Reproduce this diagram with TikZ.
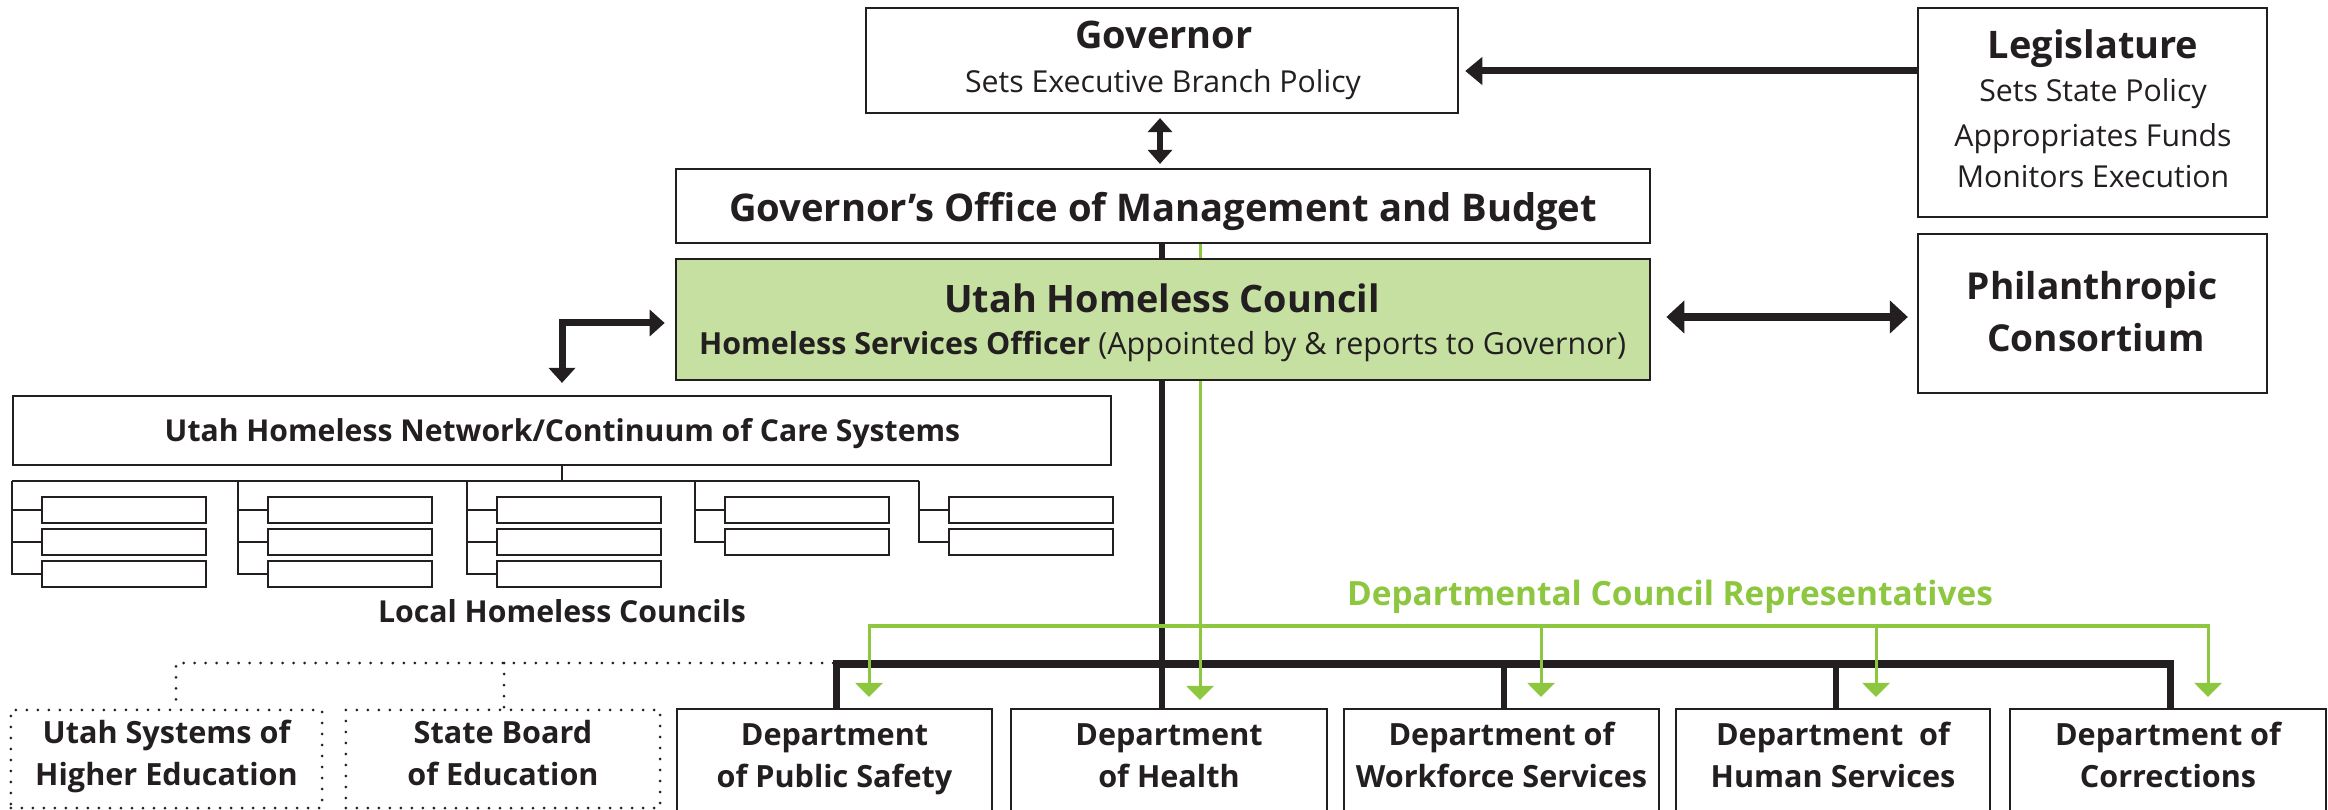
\documentclass[tikz,border=0pt]{standalone}
\usepackage{fontspec}
\setmainfont{Open Sans}
\usetikzlibrary{arrows.meta,backgrounds}
\definecolor{lgreen}{RGB}{197,224,160}
\definecolor{bgreen}{RGB}{141,198,63}
\definecolor{ink}{RGB}{35,31,32}
\newcommand\fsz[1]{\fontsize{#1}{#1}\selectfont}
\begin{document}
\begin{tikzpicture}[x=0.01cm,y=-0.01cm,
  box/.style={draw=ink,line width=0.6pt,fill=white,inner sep=0pt},
  dotbox/.style={draw=ink,line width=0.03cm,dash pattern=on 0pt off 0.11cm,line cap=round,inner sep=0pt},
  lbl/.style={inner sep=0pt,anchor=base,text=ink},
  titleB/.style={lbl,font=\fsz{10.8}\bfseries},
  subR/.style={lbl,font=\fsz{8.6}},
  midB/.style={lbl,font=\fsz{8.7}\bfseries},
  heavy/.style={draw=ink,line width=0.07cm},
  thinl/.style={draw=ink,line width=0.02cm},
  grn/.style={draw=bgreen,line width=0.03cm},
  dotl/.style={draw=ink,line width=0.03cm,dash pattern=on 0pt off 0.11cm,line cap=round}
]
\useasboundingbox (0,0) rectangle (2328,810);
\clip (0,0) rectangle (2328,810);

% ---------- boxes ----------
\node[box,minimum width=5.92cm,minimum height=1.05cm] (gov) at (1162,60.5) {};
\node[box,minimum width=3.49cm,minimum height=2.09cm] (leg) at (2092.5,112.5) {};
\node[box,minimum width=9.74cm,minimum height=0.74cm] (gomb) at (1163,206) {};
\node[box,fill=lgreen,minimum width=9.74cm,minimum height=1.21cm] (uhc) at (1163,319.5) {};
\node[box,minimum width=3.49cm,minimum height=1.59cm] (phil) at (2092.5,313.5) {};
\node[box,minimum width=10.98cm,minimum height=0.69cm] (net) at (562,430.5) {};

\foreach \g/\n [count=\i] in {12/3,238/3,467/3,695/2,919/2} {
  \foreach \j in {1,...,\n} {
    \node[box,line width=0.5pt,minimum width=1.64cm,minimum height=0.26cm] (lc\i\j) at (\g+112,478+32*\j) {};
  }
}

\node[dotbox,minimum width=3.11cm,minimum height=0.98cm] (ush) at (166.5,759) {};
\node[dotbox,minimum width=3.14cm,minimum height=0.98cm] (sbe) at (503,759) {};

\node[box,minimum width=3.15cm,minimum height=1.06cm] (dps) at (834.5,762) {};
\node[box,minimum width=3.16cm,minimum height=1.06cm] (dh) at (1169,762) {};
\node[box,minimum width=3.15cm,minimum height=1.06cm] (dw) at (1501.5,762) {};
\node[box,minimum width=3.14cm,minimum height=1.06cm] (dhs) at (1833,762) {};
\node[box,minimum width=3.16cm,minimum height=1.06cm] (dc) at (2168,762) {};

% ---------- texts ----------
\node[titleB] (govT) at (1164,49) {Governor};
\node[subR] (govS) at (1163,93) {Sets Executive Branch Policy};
\node[titleB] (legT) at (2093,59) {Legislature};
\node[subR] (legS1) at (2093,102) {Sets State Policy};
\node[subR] (legS2) at (2093,147) {Appropriates Funds};
\node[subR] (legS3) at (2093,188) {Monitors Execution};
\node[lbl,font=\fsz{10.85}\bfseries] (gombT) at (1163,222) {Governor’s Office of Management and Budget};
\node[lbl,font=\fsz{10.75}\bfseries] (uhcT) at (1162,313) {Utah Homeless Council};
\node[lbl,font=\fsz{8.65}] (uhcS) at (1162.5,355) {\textbf{Homeless Services Officer} (Appointed by \& reports to Governor)};
\node[lbl,font=\fsz{10.55}\bfseries] (philT1) at (2092,300) {Philanthropic};
\node[lbl,font=\fsz{10.55}\bfseries] (philT2) at (2096,352) {Consortium};
\node[lbl,font=\fsz{8.57}\bfseries] (netT) at (562.5,442) {Utah Homeless Network/Continuum of Care Systems};
\node[lbl,font=\fsz{8.6}\bfseries] (lhc) at (562,623) {Local Homeless Councils};
\node[midB] (ushT1) at (166.5,743) {Utah Systems of};
\node[midB] (ushT2) at (166.5,785) {Higher Education};
\node[midB] (sbeT1) at (503,743) {State Board};
\node[midB] (sbeT2) at (503,785) {of Education};
\node[midB] (dpsT1) at (834.5,745) {Department};
\node[midB] (dpsT2) at (834.5,787) {of Public Safety};
\node[midB] (dhT1) at (1169,745) {Department};
\node[midB] (dhT2) at (1169,787) {of Health};
\node[midB] (dwT1) at (1501.5,745) {Department of};
\node[midB] (dwT2) at (1501.5,787) {Workforce Services};
\node[midB] (dhsT1) at (1833,745) {Department\ \ of};
\node[midB] (dhsT2) at (1833,787) {Human Services};
\node[midB] (dcT1) at (2168,745) {Department of};
\node[midB] (dcT2) at (2168,787) {Corrections};
\node[lbl,text=bgreen,font=\fsz{9.5}\bfseries] (dcr) at (1670,605) {Departmental Council Representatives};

% ---------- connectors ----------
\begin{pgfonlayer}{background}
  \draw[heavy,-{Triangle[length=0.17cm,width=0.27cm]},shorten >=0.06cm]
    (leg.west |- 0,71) -- (gov.east |- 0,71);
  \draw[draw=ink,line width=0.06cm,{Triangle[length=0.14cm,width=0.24cm]}-{Triangle[length=0.14cm,width=0.24cm]},shorten <=0.04cm,shorten >=0.04cm]
    (gov.south -| 1160,0) -- (gomb.north -| 1160,0);
  \draw[draw=ink,line width=0.08cm,{Triangle[length=0.18cm,width=0.32cm]}-{Triangle[length=0.18cm,width=0.32cm]},shorten <=0.15cm,shorten >=0.09cm]
    (uhc.east |- 0,317) -- (phil.west |- 0,317);
  \draw[heavy,{Triangle[length=0.15cm,width=0.26cm]}-{Triangle[length=0.15cm,width=0.26cm]},shorten <=0.10cm,shorten >=0.12cm]
    (uhc.west |- 0,323) -| (net.north);
  \draw[draw=ink,line width=0.06cm] (gomb.south -| 1162,0) -- (dh.north -| 1162,0);
  \draw[heavy,line join=miter] (dps.north -| 836,0) -- (836,664) -- (2170,664) -- (dc.north -| 2170,0);
  \draw[draw=ink,line width=0.06cm] (dw.north -| 1504,0) -- (1504,664);
  \draw[draw=ink,line width=0.06cm] (dhs.north -| 1836,0) -- (1836,664);
  \draw[grn,-{Triangle[length=0.14cm,width=0.27cm]},shorten >=0.08cm]
    (gomb.south -| 1200,0) -- (dh.north -| 1200,0);
  \draw[grn,{Triangle[length=0.14cm,width=0.27cm]}-{Triangle[length=0.14cm,width=0.27cm]},shorten <=0.11cm,shorten >=0.11cm]
    (dps.north -| 869,0) -- (869,626) -- (2208,626) -- (dc.north -| 2208,0);
  \draw[grn,-{Triangle[length=0.14cm,width=0.27cm]},shorten >=0.11cm]
    (1541,626) -- (dw.north -| 1541,0);
  \draw[grn,-{Triangle[length=0.14cm,width=0.27cm]},shorten >=0.11cm]
    (1876,626) -- (dhs.north -| 1876,0);
  \draw[thinl] (net.south) -- (562,481);
  \draw[thinl] (12,481) -- (919,481);
  \foreach \g/\n [count=\i] in {12/3,238/3,467/3,695/2,919/2} {
    \foreach \j in {1,...,\n} {
      \draw[thinl] (lc\i\j.west) -| (\g,481);
    }
  }
  \draw[dotl] (833,663) -- (176,663) -- (ush.north -| 176,0);
  \draw[dotl] (504,663) -- (sbe.north -| 504,0);
\end{pgfonlayer}
\end{tikzpicture}
\end{document}
